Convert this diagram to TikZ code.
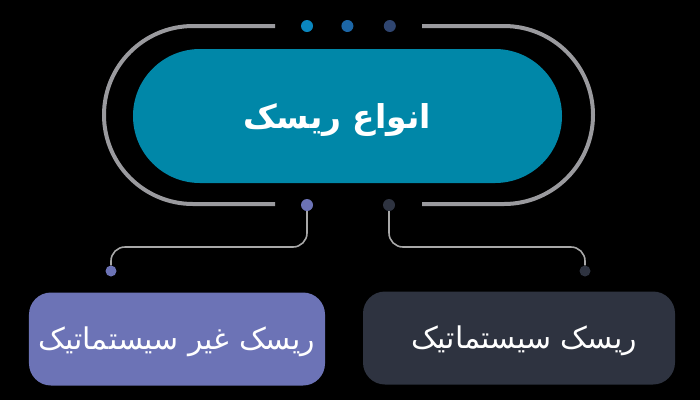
\documentclass[tikz,border=0pt]{standalone}
\usepackage{fontspec}
\TeXXeTstate=1
\newfontfamily\arabicfont[Script=Arabic]{DejaVu Sans}
\usetikzlibrary{positioning}
\definecolor{bgblack}{HTML}{000000}
\definecolor{pillteal}{HTML}{0087A8}
\definecolor{ringgray}{HTML}{9A9A9E}
\definecolor{wiregray}{HTML}{A8A8A8}
\definecolor{dotcyan}{HTML}{0A86BE}
\definecolor{dotblue}{HTML}{1C66A6}
\definecolor{dotnavy}{HTML}{2F4570}
\definecolor{lavender}{HTML}{6C73B6}
\definecolor{slate}{HTML}{2E3340}

\begin{document}
\begin{tikzpicture}[
            x=1bp, y=-1bp,
            pill/.style={rectangle, fill=pillteal, rounded corners=67bp, minimum width=429bp, minimum height=134bp, align=center, text=white, font=\arabicfont\bfseries\fontsize{33}{40}\selectfont},
            leaf/.style={rectangle, rounded corners=22bp, minimum height=93bp, align=center, text=white, font=\arabicfont\fontsize{30}{36}\selectfont},
            dot/.style={circle, inner sep=0pt, minimum size=12bp},
            ring/.style={draw=ringgray, line width=4bp},
            wire/.style={draw=wiregray, line width=1.6bp, rounded corners=14bp}
        ]
        \useasboundingbox (0,0) rectangle (700,400);
        \fill[bgblack] (0,0) rectangle (700,400);

        % Outer ring, open at top and bottom
        \draw[ring] (275,26) -- (193,26) arc[start angle=90, end angle=270, radius=89bp] -- (275,204);
        \draw[ring] (422,26) -- (504,26) arc[start angle=90, end angle=-90, radius=89bp] -- (422,204);

        % Title
        \node[pill] (title) at (347.5,116) {};
        \node[text=white, font=\arabicfont\bfseries\fontsize{33}{40}\selectfont] (titletext) at (337,120) {\beginR انواع ریسک\endR};

        % Dots on the ring
        \node[dot, fill=dotcyan] (top1) at (307,26) {};
        \node[dot, fill=dotblue, right=28bp of top1] (top2) {};
        \node[dot, fill=dotnavy, right=30bp of top2] (top3) {};
        \node[dot, fill=lavender] (botL) at (307,205) {};
        \node[dot, fill=slate] (botR) at (389,205) {};

        % Leaves
        \node[leaf, fill=lavender, minimum width=296bp] (unsys) at (177,339) {};
        \node[text=white, font=\arabicfont\fontsize{30}{36}\selectfont] (unsystext) at (177,342) {\beginR ریسک غیر سیستماتیک\endR};
        \node[leaf, fill=slate, minimum width=312bp] (sys) at (519,338) {};
        \node[text=white, font=\arabicfont\fontsize{30}{36}\selectfont] (systext) at (524,341) {\beginR ریسک سیستماتیک\endR};

        % Connectors
        \node[dot, fill=lavender, minimum size=11bp] (endL) at (111,271) {};
        \node[dot, fill=slate, minimum size=11bp] (endR) at (585,271) {};
        \coordinate (kneeL) at (111,247);
        \coordinate (kneeR) at (585,247);
        \draw[wire] (botL) |- (kneeL) -- (endL);
        \draw[wire] (botR) |- (kneeR) -- (endR);

    \end{tikzpicture}
\end{document}
